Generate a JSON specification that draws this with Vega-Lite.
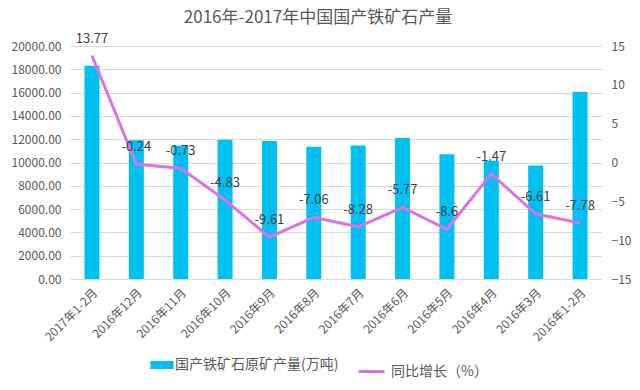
{
  "$schema": "https://vega.github.io/schema/vega-lite/v6.json",
  "width": 532,
  "height": 233,
  "autosize": {"type": "none"},
  "padding": {"left": 70, "top": 46, "right": 38, "bottom": 111},
  "background": "white",
  "config": {
    "font": "Noto Sans CJK SC",
    "view": {"stroke": null},
    "axis": {"labelColor": "#595959", "labelFontSize": 12, "domain": false, "ticks": false, "title": null, "labelFont": "Noto Sans CJK SC"},
    "axisQuantitative": {"labelOverlap": false, "labelFlush": false}
  },
  "title": {
    "text": "2016年-2017年中国国产铁矿石产量",
    "fontSize": 17,
    "fontWeight": "normal",
    "color": "#595959",
    "anchor": "middle",
    "frame": "group",
    "dx": -18,
    "offset": 6
  },
  "data": {
    "values": [
      {"month": "2017年1-2月", "output": 18300, "growth": 13.77},
      {"month": "2016年12月", "output": 11900, "growth": -0.24},
      {"month": "2016年11月", "output": 11450, "growth": -0.73},
      {"month": "2016年10月", "output": 11950, "growth": -4.83},
      {"month": "2016年9月", "output": 11850, "growth": -9.61},
      {"month": "2016年8月", "output": 11350, "growth": -7.06},
      {"month": "2016年7月", "output": 11450, "growth": -8.28},
      {"month": "2016年6月", "output": 12100, "growth": -5.77},
      {"month": "2016年5月", "output": 10700, "growth": -8.6},
      {"month": "2016年4月", "output": 10150, "growth": -1.47},
      {"month": "2016年3月", "output": 9750, "growth": -6.61},
      {"month": "2016年1-2月", "output": 16050, "growth": -7.78}
    ]
  },
  "encoding": {
    "x": {
      "field": "month",
      "type": "nominal",
      "sort": null,
      "scale": {"paddingInner": 0.662, "paddingOuter": 0.326},
      "axis": {"labelAngle": -45, "labelPadding": 8}
    }
  },
  "layer": [
    {
      "mark": {"type": "bar"},
      "encoding": {
        "y": {
          "field": "output",
          "type": "quantitative",
          "scale": {"domain": [0, 20000], "nice": false},
          "axis": {
            "orient": "left",
            "values": [0, 2000, 4000, 6000, 8000, 10000, 12000, 14000, 16000, 18000, 20000],
            "format": ".2f",
            "grid": true,
            "gridColor": "#D9D9D9",
            "labelPadding": 9,
            "labelOverlap": false
          }
        },
        "color": {
          "datum": "国产铁矿石原矿产量(万吨)",
          "scale": {"range": ["#00C0F2"]},
          "legend": {
            "orient": "none",
            "legendX": 84,
            "legendY": 311,
            "title": null,
            "symbolType": "M-1.45,-0.5H1.45V0.5H-1.45Z",
            "symbolSize": 256,
            "symbolStrokeWidth": 0,
            "labelFontSize": 14,
            "labelColor": "#595959",
            "labelOffset": 5,
            "labelLimit": 400,
            "padding": 0
          }
        }
      }
    },
    {
      "encoding": {
        "y": {
          "field": "growth",
          "type": "quantitative",
          "scale": {"domain": [-15, 15], "nice": false},
          "axis": {
            "orient": "right",
            "values": [-15, -10, -5, 0, 5, 10, 15],
            "grid": false,
            "labelPadding": 9,
            "labelOverlap": false,
            "labelFlush": false
          }
        }
      },
      "layer": [
        {
          "mark": {"type": "line", "strokeWidth": 3},
          "encoding": {
            "stroke": {
              "datum": "同比增长（%）",
              "scale": {"range": ["#DD72E2"]},
              "legend": {
                "orient": "none",
                "legendX": 287,
                "legendY": 311,
                "title": null,
                "symbolType": "stroke",
                "symbolSize": 676,
                "symbolStrokeWidth": 3,
                "labelFontSize": 14,
                "labelColor": "#595959",
                "labelOffset": 5,
                "labelLimit": 300,
                "padding": 0
              }
            }
          }
        },
        {
          "mark": {"type": "text", "dy": -17, "fontSize": 13, "color": "#404040"},
          "encoding": {
            "text": {"field": "growth", "type": "nominal"}
          }
        }
      ]
    }
  ],
  "resolve": {"scale": {"y": "independent"}}
}
